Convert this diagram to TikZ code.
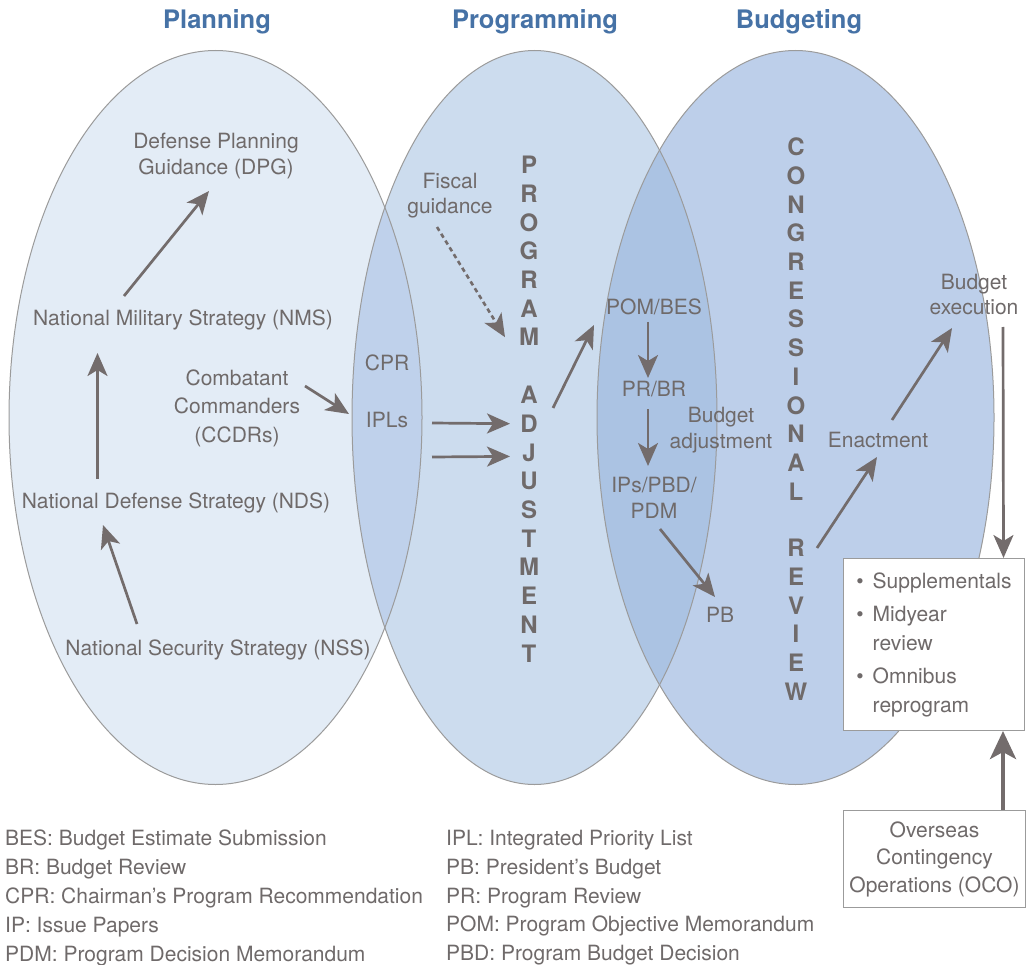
\documentclass[tikz,border=0pt]{standalone}
\usepackage{fontspec}
\setmainfont{TeX Gyre Heros}
\usetikzlibrary{arrows.meta}
\definecolor{planfill}{HTML}{E3ECF6}
\definecolor{progfill}{HTML}{CCDCEE}
\definecolor{budgfill}{HTML}{BDCFEA}
\definecolor{planprog}{HTML}{BFD1EB}
\definecolor{progbudg}{HTML}{ABC3E3}
\definecolor{rimgray}{HTML}{9B9B9B}
\definecolor{txtgray}{HTML}{6F6A6A}
\definecolor{arrgray}{HTML}{736C6C}
\definecolor{titleblue}{HTML}{4672A6}
\begin{document}
\begin{tikzpicture}[
  x = 1pt, y = -1pt,
  every node/.style = {text = txtgray, inner sep = 0pt, align = center,
    font = \fontsize{21}{26}\selectfont},
  title/.style = {text = titleblue, font = \fontsize{25.5}{30}\selectfont\bfseries},
  letter/.style = {font = \fontsize{24}{28}\selectfont\bfseries},
  legend/.style = {align = left, font = \fontsize{21}{28.8}\selectfont},
  rim/.style = {draw = rimgray, line width = 1pt},
  infobox/.style = {draw = rimgray, fill = white, line width = 1pt},
  arr/.style = {draw = arrgray, line width = 2.7pt,
    -{Stealth[length = 23pt, width = 20pt, inset = 6pt]}},
  ]
  \useasboundingbox (0,0) rectangle (1030,965);

  \fill[planfill] (215.5,417.5) ellipse [x radius = 206.5pt, y radius = 367pt];
  \fill[progfill] (534.5,417.5) ellipse [x radius = 182.5pt, y radius = 367pt];
  \fill[budgfill] (795.5,417.5) ellipse [x radius = 198.5pt, y radius = 367pt];
  \begin{scope}
    \clip (215.5,417.5) ellipse [x radius = 206.5pt, y radius = 367pt];
    \fill[planprog] (534.5,417.5) ellipse [x radius = 182.5pt, y radius = 367pt];
  \end{scope}
  \begin{scope}
    \clip (534.5,417.5) ellipse [x radius = 182.5pt, y radius = 367pt];
    \fill[progbudg] (795.5,417.5) ellipse [x radius = 198.5pt, y radius = 367pt];
  \end{scope}
  \draw[rim] (215.5,417.5) ellipse [x radius = 206.5pt, y radius = 367pt];
  \draw[rim] (534.5,417.5) ellipse [x radius = 182.5pt, y radius = 367pt];
  \draw[rim] (795.5,417.5) ellipse [x radius = 198.5pt, y radius = 367pt];

  \node[title] (planning) at (217,22) {Planning};
  \node[title] (programming) at (535,22) {Programming};
  \node[title] (budgeting) at (799,22) {Budgeting};

  \node (dpg) at (216,156) {Defense Planning\\Guidance (DPG)};
  \node (nms) at (183,320) {National Military Strategy (NMS)};
  \node (nds) at (176,503) {National Defense Strategy (NDS)};
  \node (nss) at (218,650) {National Security Strategy (NSS)};
  \node[font = \fontsize{21}{28.5}\selectfont] (ccdr) at (237,408)
    {Combatant\\Commanders\\(CCDRs)};
  \node (cpr) at (387,363) {CPR};
  \node (ipl) at (387,420) {IPLs};
  \node[font = \fontsize{21}{25}\selectfont] (fiscal) at (450,195.5)
    {Fiscal\\guidance};
  \node (pom) at (654,307) {POM/BES};
  \node (prbr) at (654,389) {PR/BR};
  \node (badj) at (721,430) {Budget\\adjustment};
  \node (ips) at (654,498) {IPs/PBD/\\PDM};
  \node (pb) at (720,615) {PB};
  \node (enact) at (878,440) {Enactment};
  \node[font = \fontsize{21}{25}\selectfont] (exec) at (974,294.5)
    {Budget\\execution};

  \foreach \l [count = \i] in {P,R,O,G,R,A,M}
    \node[letter] (prog\i) at (529,165+28.7*\i-28.7) {\l};
  \foreach \l [count = \i] in {A,D,J,U,S,T,M,E,N,T}
    \node[letter] (adj\i) at (529,395+28.7*\i-28.7) {\l};
  \foreach \l [count = \i] in {C,O,N,G,R,E,S,S,I,O,N,A,L}
    \node[letter] (cong\i) at (796,147+28.7*\i-28.7) {\l};
  \foreach \l [count = \i] in {R,E,V,I,E,W}
    \node[letter] (rev\i) at (796,548+28.7*\i-28.7) {\l};

  \node[infobox, anchor = north west, minimum width = 181pt,
    minimum height = 172pt, font = \fontsize{21}{28.5}\selectfont] (extra)
    at (843,558)
    {\begin{tabular}{@{}l@{\hspace{9pt}}l@{}}
       \textbullet & Supplementals\\[5pt]
       \textbullet & Midyear\\
                   & review\\[5pt]
       \textbullet & Omnibus\\
                   & reprogram
     \end{tabular}};
  \node[infobox, anchor = north west, minimum width = 182pt,
    minimum height = 97pt, font = \fontsize{21}{27.5}\selectfont] (oco)
    at (843,810) {Overseas\\Contingency\\Operations (OCO)};

  \node[legend, anchor = north west] (legleft) at (5,830)
    {BES: Budget Estimate Submission\\BR: Budget Review\\
     CPR: Chairman’s Program Recommendation\\IP: Issue Papers\\
     PDM: Program Decision Memorandum};
  \node[legend, anchor = north west] (legright) at (446,830)
    {IPL: Integrated Priority List\\PB: President’s Budget\\
     PR: Program Review\\POM: Program Objective Memorandum\\
     PBD: Program Budget Decision};

  \draw[arr] ([shift = {(-59,-24)}]nms.center) -- ([shift = {(-7,35)}]dpg.center);
  \draw[arr] ([shift = {(-78.5,-24)}]nds.center) -- ([shift = {(-85.5,33)}]nms.center);
  \draw[arr] ([shift = {(-81,-26)}]nss.center) -- ([shift = {(-73,22)}]nds.center);
  \draw[arr] ([shift = {(68,-22)}]ccdr.center) -- ([shift = {(-38,-6)}]ipl.center);
  \draw[arr] ([shift = {(45,3)}]ipl.center) -- ([shift = {(-19,0)}]adj2.center);
  \draw[arr] ([shift = {(45,37)}]ipl.center) -- ([shift = {(-19,4)}]adj3.center);
  \draw[arr, line width = 2.6pt, dash pattern = on 4.5pt off 3.5pt]
    ([shift = {(-13,31.5)}]fiscal.center) -- ([shift = {(-24,0)}]prog7.center);
  \draw[arr] ([shift = {(24,13)}]adj1.center) -- ([shift = {(-60,18)}]pom.center);
  \draw[arr] ([shift = {(-6,15)}]pom.center) -- ([shift = {(-6,-11)}]prbr.center);
  \draw[arr] ([shift = {(-6,20)}]prbr.center) -- ([shift = {(-6,-32)}]ips.center);
  \draw[arr] ([shift = {(6,31)}]ips.center) -- ([shift = {(-5,-18)}]pb.center);
  \draw[arr] ([shift = {(21,0)}]rev1.center) -- ([shift = {(-1,17)}]enact.center);
  \draw[arr] ([shift = {(14,-20)}]enact.center) -- ([shift = {(-22,33.5)}]exec.center);
  \draw[arr] ([shift = {(29,32.5)}]exec.center) -- ([shift = {(69.5,0)}]extra.north);
  \draw[arr, line width = 4.5pt, -{Stealth[length = 28pt, width = 26pt, inset = 7pt]}]
    ([shift = {(68.5,0)}]oco.north) -- ([shift = {(69,0)}]extra.south);
\end{tikzpicture}
\end{document}
